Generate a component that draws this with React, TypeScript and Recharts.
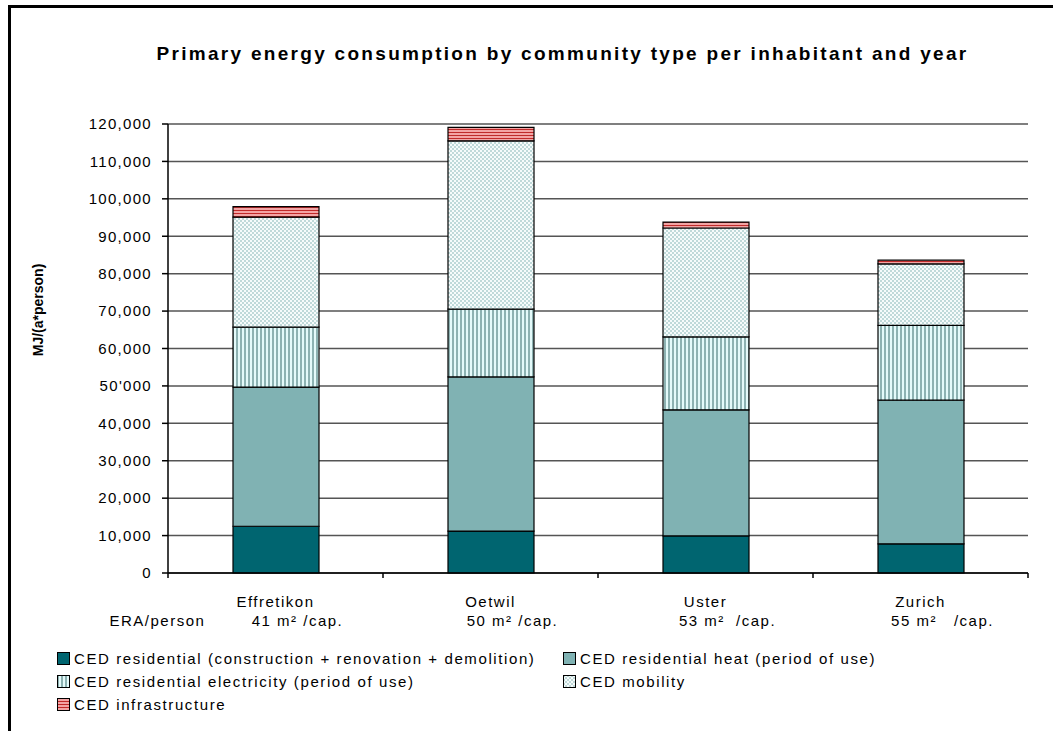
import React from 'react';
import { BarChart, Bar, XAxis, YAxis, CartesianGrid } from 'recharts';

// Community types and their heated floor area (ERA) per inhabitant
const communities = ['Effretikon', 'Oetwil', 'Uster', 'Zurich'];
const areaPerPerson = ['41 m\u00B2 /cap.', '50 m\u00B2 /cap.', '53 m\u00B2  /cap.', '55 m\u00B2   /cap.'];

// Cumulative energy demand, MJ per inhabitant and year
const constructionValues = [12500, 11200, 9900, 7800];
const heatValues = [37200, 41200, 33700, 38400];
const electricityValues = [16000, 18100, 19500, 20000];
const mobilityValues = [29400, 45000, 29100, 16400];
const infrastructureValues = [2800, 3600, 1600, 1000];

const yTicks = [0, 10000, 20000, 30000, 40000, 50000, 60000, 70000, 80000, 90000, 100000, 110000, 120000];

const seriesNames = {
  construction: 'CED residential (construction + renovation + demolition)',
  heat: 'CED residential heat (period of use)',
  electricity: 'CED residential electricity (period of use)',
  mobility: 'CED mobility',
  infrastructure: 'CED infrastructure',
};

const fills = {
  construction: '#006570',
  heat: '#80b2b3',
  electricity: 'url(#elecStripes)',
  mobility: 'url(#mobilityChecks)',
  infrastructure: 'url(#infraStripes)',
};

const data = communities.map((name, i) => ({
  name,
  construction: constructionValues[i],
  heat: heatValues[i],
  electricity: electricityValues[i],
  mobility: mobilityValues[i],
  infrastructure: infrastructureValues[i],
}));

const FONT = '"Liberation Sans", Arial, sans-serif';

// chart frame
const CHART_W = 1053;
const CHART_H = 731;
const X_AXIS_H = 60;
const MARGIN = { top: 124, right: 25, bottom: 158 - X_AXIS_H, left: 0 };
const Y_AXIS_W = 168;
const BAND = (CHART_W - MARGIN.right - MARGIN.left - Y_AXIS_W) / communities.length;

const formatY = (v: number) => (v === 50000 ? "50'000" : v.toLocaleString('en-US'));

const PatternDefs = () => (
  <svg width={0} height={0} style={{ position: 'absolute' }}>
    <defs>
      <pattern id="elecStripes" width={4} height={4} patternUnits="userSpaceOnUse">
        <rect width={4} height={4} fill="#e4fafa" />
        <rect width={2} height={4} fill="#8db2b2" />
      </pattern>
      <pattern id="mobilityChecks" width={4} height={4} patternUnits="userSpaceOnUse">
        <rect width={4} height={4} fill="#f6fbfb" />
        <rect width={2} height={2} fill="#bfd9d9" />
        <rect x={2} y={2} width={2} height={2} fill="#bfd9d9" />
      </pattern>
      <pattern id="infraStripes" width={3} height={3} patternUnits="userSpaceOnUse">
        <rect width={3} height={3} fill="#f3a4a4" />
        <rect width={3} height={1} fill="#c02a2a" />
      </pattern>
    </defs>
  </svg>
);

// Category label (two lines) plus the tick marks at the category boundaries
const CategoryTick = (props: any) => {
  const { x, y, payload, index } = props;
  const textStyle = { whiteSpace: 'pre' as const };
  const left = x - BAND / 2;
  const right = x + BAND / 2;
  return (
    <g>
      <line x1={left} x2={left} y1={y} y2={y + 5} stroke="#000" strokeWidth={1.5} />
      {index === communities.length - 1 && (
        <line x1={right} x2={right} y1={y} y2={y + 5} stroke="#000" strokeWidth={1.5} />
      )}
      <g fontFamily={FONT} fontSize={15} fill="#000" letterSpacing={1.5}>
        <text x={x} y={y + 34} textAnchor="middle" style={textStyle}>{payload.value}</text>
        <text x={x + 22} y={y + 53} textAnchor="middle" style={textStyle}>{areaPerPerson[index]}</text>
        {index === 0 && (
          <text x={x - 166} y={y + 53} textAnchor="start">ERA/person</text>
        )}
      </g>
    </g>
  );
};

const Swatch = ({ fill }: { fill: string }) => (
  <svg width={13} height={13} style={{ display: 'block', marginRight: 4 }}>
    <rect x={0.5} y={0.5} width={12} height={12} fill={fill} stroke="#000" strokeWidth={1} />
  </svg>
);

const legendRows: (keyof typeof seriesNames)[][] = [
  ['construction', 'heat'],
  ['electricity', 'mobility'],
  ['infrastructure'],
];

const LegendBlock = () => (
  <div style={{ position: 'absolute', left: 57, top: 647, fontFamily: FONT, fontSize: 15, letterSpacing: 1.6 }}>
    {legendRows.map((row, r) => (
      <div key={r} style={{ display: 'flex', height: 23, alignItems: 'center' }}>
        {row.map((key) => (
          <div key={key} style={{ display: 'flex', alignItems: 'center', width: 506 }}>
            <Swatch fill={fills[key]} />
            <span>{seriesNames[key]}</span>
          </div>
        ))}
      </div>
    ))}
  </div>
);

export default function App() {
  const keys = ['construction', 'heat', 'electricity', 'mobility', 'infrastructure'] as const;
  return (
    <div style={{ position: 'absolute', left: 0, top: 0, width: CHART_W, height: CHART_H, background: '#fff', overflow: 'hidden' }}>
      <PatternDefs />
      <div
        style={{
          position: 'absolute', left: 8, top: 5, width: 1045, height: 726, boxSizing: 'border-box',
          borderLeft: '3px solid #000', borderTop: '3px solid #000',
        }}
      />
      <div
        style={{
          position: 'absolute', left: 0, width: 1125, top: 43, textAlign: 'center',
          fontFamily: FONT, fontWeight: 'bold', fontSize: 19, letterSpacing: 2.3, whiteSpace: 'nowrap',
        }}
      >
        Primary energy consumption by community type per inhabitant and year
      </div>
      <svg width={60} height={CHART_H} style={{ position: 'absolute', left: 0, top: 0 }}>
        <text
          x={43}
          y={310}
          transform="rotate(-90 43 310)"
          textAnchor="middle"
          fontFamily={FONT}
          fontWeight="bold"
          fontSize={14}
          fill="#000"
        >
          MJ/(a*person)
        </text>
      </svg>
      <div style={{ position: 'absolute', left: 0, top: 0 }}>
        <BarChart width={CHART_W} height={CHART_H} data={data} margin={MARGIN}>
          <CartesianGrid horizontal vertical={false} stroke="#555" strokeWidth={1.5} />
          <XAxis
            dataKey="name"
            height={X_AXIS_H}
            axisLine={{ stroke: '#000', strokeWidth: 1.5 }}
            tickLine={false}
            tickSize={0}
            tickMargin={0}
            interval={0}
            tick={<CategoryTick />}
          />
          <YAxis
            width={Y_AXIS_W}
            domain={[0, 120000]}
            ticks={yTicks}
            interval={0}
            tickFormatter={formatY}
            tickSize={6}
            tickMargin={10}
            axisLine={{ stroke: '#000', strokeWidth: 1.5 }}
            tickLine={{ stroke: '#000', strokeWidth: 1.5 }}
            tick={{ fill: '#000', fontSize: 15, fontFamily: FONT, letterSpacing: 1.3 }}
          />
          <YAxis
            yAxisId="r"
            orientation="right"
            width={0}
            domain={[0, 120000]}
            tick={false}
            tickLine={false}
            axisLine={{ stroke: '#000', strokeWidth: 1.5 }}
          />
          {keys.map((k) => (
            <Bar
              key={k}
              dataKey={k}
              name={seriesNames[k]}
              stackId="ced"
              fill={fills[k]}
              stroke="#000"
              strokeWidth={1.2}
              barSize={86}
              isAnimationActive={false}
            />
          ))}
        </BarChart>
      </div>
      <LegendBlock />
    </div>
  );
}
